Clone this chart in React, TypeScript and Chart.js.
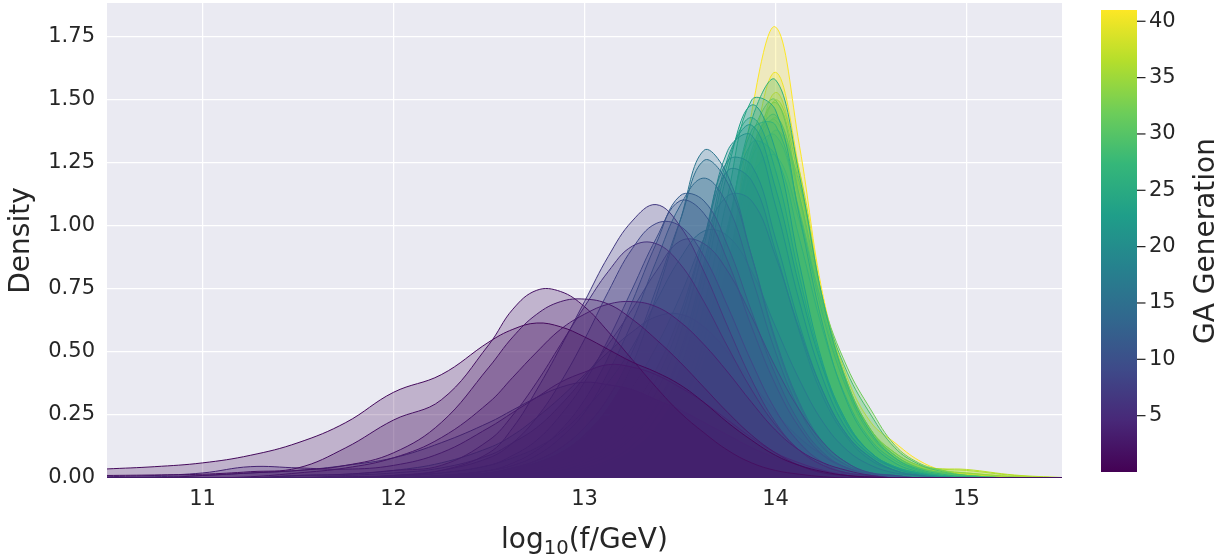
import React, { useEffect, useRef } from "react";
import { Chart, registerables } from "chart.js";

Chart.register(...registerables);

// x grid: log10(f/GeV)
const logF = [10.5, 10.75, 11, 11.25, 11.5, 11.75, 12, 12.25, 12.5, 12.625, 12.75, 12.875, 13, 13.125, 13.25, 13.375, 13.5, 13.625, 13.75, 13.875, 14, 14.125, 14.25, 14.375, 14.5, 14.625, 14.75, 14.875, 15, 15.25, 15.5];

// density of each GA generation, read at the logF grid
const g01 = [0.036, 0.045, 0.06, 0.09, 0.14, 0.22, 0.34, 0.41, 0.54, 0.59, 0.615, 0.60, 0.56, 0.51, 0.46, 0.42, 0.37, 0.30, 0.22, 0.15, 0.09, 0.05, 0.025, 0.01, 0.004, 0, 0, 0, 0, 0, 0];
const g02 = [0.01, 0.012, 0.015, 0.025, 0.04, 0.12, 0.23, 0.31, 0.53, 0.67, 0.745, 0.74, 0.68, 0.58, 0.47, 0.36, 0.26, 0.18, 0.11, 0.06, 0.03, 0.015, 0.005, 0, 0, 0, 0, 0, 0, 0, 0];
const g03 = [0, 0, 0.01, 0.02, 0.03, 0.05, 0.10, 0.22, 0.44, 0.56, 0.65, 0.70, 0.71, 0.69, 0.63, 0.55, 0.46, 0.36, 0.26, 0.17, 0.10, 0.05, 0.02, 0.01, 0, 0, 0, 0, 0, 0, 0];
const g04 = [0, 0, 0, 0.005, 0.02, 0.04, 0.08, 0.16, 0.30, 0.40, 0.50, 0.59, 0.65, 0.69, 0.70, 0.68, 0.62, 0.53, 0.42, 0.30, 0.19, 0.11, 0.06, 0.03, 0.01, 0, 0, 0, 0, 0, 0];
const g05 = [0.005, 0.01, 0.02, 0.045, 0.04, 0.035, 0.05, 0.10, 0.20, 0.26, 0.32, 0.38, 0.42, 0.45, 0.44, 0.41, 0.36, 0.30, 0.23, 0.16, 0.10, 0.06, 0.03, 0.01, 0.005, 0, 0, 0, 0, 0, 0];
const g06 = [0, 0, 0, 0, 0.01, 0.015, 0.03, 0.05, 0.15, 0.25, 0.38, 0.53, 0.68, 0.82, 0.92, 0.93, 0.85, 0.70, 0.52, 0.35, 0.21, 0.11, 0.05, 0.02, 0.01, 0, 0, 0, 0, 0, 0];
const g07 = [0, 0, 0, 0, 0, 0.005, 0.01, 0.03, 0.10, 0.20, 0.35, 0.52, 0.70, 0.88, 1.02, 1.085, 1.00, 0.82, 0.60, 0.39, 0.22, 0.11, 0.05, 0.02, 0.01, 0, 0, 0, 0, 0, 0];
const g08 = [0, 0.005, 0.01, 0.02, 0.03, 0.05, 0.08, 0.14, 0.22, 0.27, 0.32, 0.36, 0.38, 0.37, 0.35, 0.31, 0.27, 0.22, 0.17, 0.12, 0.08, 0.05, 0.03, 0.015, 0.005, 0, 0, 0, 0, 0, 0];
const g09 = [0, 0, 0, 0, 0, 0, 0.01, 0.03, 0.08, 0.14, 0.24, 0.38, 0.55, 0.74, 0.91, 1.01, 1.00, 0.88, 0.68, 0.46, 0.27, 0.14, 0.06, 0.02, 0.01, 0, 0, 0, 0, 0, 0];
const g10 = [0, 0, 0, 0, 0, 0.01, 0.02, 0.04, 0.09, 0.14, 0.20, 0.29, 0.40, 0.53, 0.67, 0.82, 0.94, 0.93, 0.82, 0.64, 0.44, 0.27, 0.14, 0.06, 0.02, 0.01, 0, 0, 0, 0, 0];
const g11 = [0, 0, 0, 0, 0, 0, 0.005, 0.02, 0.05, 0.09, 0.15, 0.25, 0.38, 0.55, 0.75, 0.95, 1.10, 1.05, 0.86, 0.60, 0.37, 0.20, 0.09, 0.04, 0.015, 0, 0, 0, 0, 0, 0];
const g12 = [0, 0, 0, 0, 0, 0, 0, 0.01, 0.03, 0.06, 0.11, 0.19, 0.31, 0.48, 0.70, 0.93, 1.12, 1.10, 0.92, 0.66, 0.41, 0.22, 0.10, 0.04, 0.015, 0.005, 0, 0, 0, 0, 0];
const g13 = [0, 0, 0, 0, 0.01, 0.015, 0.03, 0.06, 0.12, 0.17, 0.24, 0.32, 0.41, 0.50, 0.58, 0.64, 0.65, 0.60, 0.50, 0.38, 0.26, 0.16, 0.09, 0.04, 0.02, 0.01, 0, 0, 0, 0, 0];
const g14 = [0, 0, 0, 0, 0, 0, 0, 0.01, 0.03, 0.05, 0.09, 0.16, 0.26, 0.42, 0.62, 0.86, 1.08, 1.19, 1.08, 0.80, 0.50, 0.27, 0.12, 0.05, 0.02, 0.005, 0, 0, 0, 0, 0];
const g15 = [0, 0, 0, 0, 0, 0, 0, 0.005, 0.02, 0.04, 0.07, 0.12, 0.20, 0.32, 0.50, 0.75, 1.02, 1.26, 1.17, 0.88, 0.55, 0.30, 0.14, 0.06, 0.02, 0.01, 0, 0, 0, 0, 0];
const g16 = [0, 0, 0, 0, 0, 0, 0, 0.005, 0.015, 0.03, 0.06, 0.10, 0.17, 0.28, 0.45, 0.72, 1.02, 1.30, 1.20, 0.88, 0.54, 0.29, 0.13, 0.05, 0.02, 0.005, 0, 0, 0, 0, 0];
const g17 = [0, 0, 0, 0, 0, 0, 0.01, 0.02, 0.05, 0.08, 0.12, 0.18, 0.27, 0.38, 0.52, 0.70, 0.87, 0.98, 0.96, 0.82, 0.60, 0.39, 0.22, 0.11, 0.05, 0.02, 0.01, 0, 0, 0, 0];
const g18 = [0, 0, 0, 0, 0, 0, 0, 0.01, 0.02, 0.04, 0.06, 0.10, 0.16, 0.24, 0.36, 0.52, 0.72, 0.95, 1.12, 1.10, 0.88, 0.59, 0.34, 0.17, 0.08, 0.03, 0.01, 0, 0, 0, 0];
const g19 = [0, 0, 0, 0, 0, 0, 0, 0, 0.01, 0.02, 0.04, 0.07, 0.11, 0.18, 0.28, 0.43, 0.65, 0.95, 1.22, 1.18, 0.90, 0.58, 0.32, 0.16, 0.07, 0.03, 0.01, 0, 0, 0, 0];
const g20 = [0, 0, 0, 0, 0, 0, 0, 0, 0.01, 0.015, 0.03, 0.05, 0.09, 0.15, 0.24, 0.39, 0.62, 0.95, 1.26, 1.24, 0.95, 0.61, 0.34, 0.17, 0.08, 0.03, 0.01, 0, 0, 0, 0];
const g21 = [0, 0, 0, 0, 0, 0, 0, 0, 0.005, 0.01, 0.02, 0.04, 0.07, 0.12, 0.20, 0.34, 0.57, 0.92, 1.30, 1.36, 1.08, 0.70, 0.39, 0.19, 0.09, 0.04, 0.015, 0.005, 0, 0, 0];
const g22 = [0, 0, 0, 0, 0, 0, 0, 0, 0.005, 0.01, 0.02, 0.03, 0.06, 0.10, 0.17, 0.29, 0.50, 0.85, 1.27, 1.40, 1.15, 0.76, 0.43, 0.21, 0.10, 0.04, 0.015, 0.005, 0, 0, 0];
const g23 = [0, 0, 0, 0, 0, 0, 0, 0, 0, 0.005, 0.01, 0.02, 0.04, 0.07, 0.13, 0.24, 0.43, 0.77, 1.22, 1.48, 1.30, 0.85, 0.45, 0.22, 0.10, 0.045, 0.02, 0.005, 0, 0, 0];
const g24 = [0, 0, 0, 0, 0, 0, 0, 0, 0.005, 0.01, 0.02, 0.03, 0.05, 0.09, 0.16, 0.28, 0.48, 0.82, 1.25, 1.43, 1.22, 0.80, 0.44, 0.22, 0.10, 0.045, 0.02, 0.005, 0, 0, 0];
const g25 = [0, 0, 0, 0, 0, 0, 0, 0, 0, 0, 0.01, 0.02, 0.03, 0.06, 0.11, 0.20, 0.37, 0.68, 1.12, 1.50, 1.46, 1.04, 0.60, 0.30, 0.14, 0.06, 0.025, 0.01, 0.005, 0, 0];
const g26 = [0, 0, 0, 0, 0, 0, 0, 0, 0, 0, 0.005, 0.01, 0.02, 0.04, 0.08, 0.15, 0.29, 0.55, 0.98, 1.42, 1.58, 1.20, 0.70, 0.37, 0.18, 0.08, 0.035, 0.015, 0.005, 0, 0];
const g27 = [0, 0, 0, 0, 0, 0, 0, 0, 0, 0, 0, 0.01, 0.02, 0.04, 0.08, 0.16, 0.32, 0.60, 1.00, 1.33, 1.28, 0.95, 0.58, 0.31, 0.15, 0.07, 0.03, 0.01, 0, 0, 0];
const g28 = [0, 0, 0, 0, 0, 0, 0, 0, 0, 0, 0, 0, 0.02, 0.04, 0.07, 0.14, 0.28, 0.54, 0.97, 1.38, 1.40, 1.05, 0.64, 0.35, 0.17, 0.08, 0.03, 0.01, 0, 0, 0];
const g29 = [0, 0, 0, 0, 0, 0, 0, 0, 0, 0, 0, 0, 0.02, 0.04, 0.08, 0.15, 0.28, 0.50, 0.85, 1.20, 1.28, 1.02, 0.68, 0.42, 0.25, 0.12, 0.055, 0.025, 0.01, 0, 0];
const g30 = [0, 0, 0, 0, 0, 0, 0, 0, 0, 0, 0, 0, 0.01, 0.03, 0.06, 0.12, 0.24, 0.46, 0.84, 1.27, 1.36, 1.06, 0.66, 0.36, 0.18, 0.09, 0.04, 0.02, 0.01, 0, 0];
const g31 = [0, 0, 0, 0, 0, 0, 0, 0, 0, 0, 0, 0, 0, 0.02, 0.05, 0.10, 0.20, 0.42, 0.82, 1.30, 1.44, 1.12, 0.69, 0.38, 0.19, 0.09, 0.04, 0.02, 0.01, 0, 0];
const g32 = [0, 0, 0, 0, 0, 0, 0, 0, 0, 0, 0, 0, 0, 0.02, 0.05, 0.10, 0.19, 0.37, 0.70, 1.12, 1.38, 1.17, 0.70, 0.44, 0.27, 0.13, 0.06, 0.03, 0.01, 0, 0];
const g33 = [0, 0, 0, 0, 0, 0, 0, 0, 0, 0, 0, 0, 0, 0.02, 0.04, 0.09, 0.19, 0.40, 0.80, 1.35, 1.50, 1.12, 0.66, 0.35, 0.17, 0.08, 0.04, 0.02, 0.01, 0, 0];
const g34 = [0, 0, 0, 0, 0, 0, 0, 0, 0, 0, 0, 0, 0, 0.02, 0.04, 0.09, 0.18, 0.38, 0.76, 1.28, 1.42, 1.10, 0.67, 0.37, 0.19, 0.10, 0.05, 0.03, 0.02, 0.005, 0];
const g35 = [0, 0, 0, 0, 0, 0, 0, 0, 0, 0, 0, 0, 0, 0, 0.03, 0.07, 0.15, 0.33, 0.70, 1.25, 1.49, 1.18, 0.70, 0.38, 0.19, 0.09, 0.04, 0.02, 0.01, 0, 0];
const g36 = [0, 0, 0, 0, 0, 0, 0, 0, 0, 0, 0, 0, 0, 0, 0.03, 0.07, 0.15, 0.32, 0.66, 1.18, 1.43, 1.15, 0.70, 0.38, 0.19, 0.10, 0.05, 0.035, 0.03, 0.01, 0];
const g37 = [0, 0, 0, 0, 0, 0, 0, 0, 0, 0, 0, 0, 0, 0, 0.03, 0.06, 0.13, 0.29, 0.62, 1.15, 1.50, 1.22, 0.70, 0.36, 0.17, 0.08, 0.04, 0.036, 0.034, 0.012, 0.002];
const g38 = [0, 0, 0, 0, 0, 0, 0, 0, 0, 0, 0, 0, 0, 0, 0.03, 0.06, 0.13, 0.28, 0.60, 1.08, 1.38, 1.15, 0.70, 0.37, 0.18, 0.09, 0.045, 0.025, 0.02, 0.005, 0];
const g39 = [0, 0, 0, 0, 0, 0, 0, 0, 0, 0, 0, 0, 0, 0, 0.02, 0.05, 0.11, 0.26, 0.60, 1.15, 1.53, 1.20, 0.68, 0.34, 0.16, 0.08, 0.04, 0.02, 0.01, 0, 0];
const g40 = [0, 0, 0, 0, 0, 0, 0, 0, 0, 0, 0, 0, 0, 0, 0.02, 0.04, 0.09, 0.24, 0.62, 1.25, 1.61, 1.22, 0.66, 0.32, 0.15, 0.07, 0.03, 0.015, 0.01, 0, 0];
const g41 = [0, 0, 0, 0, 0, 0, 0, 0, 0, 0, 0, 0, 0, 0, 0.015, 0.04, 0.10, 0.30, 0.78, 1.45, 1.79, 1.32, 0.72, 0.40, 0.22, 0.14, 0.07, 0.03, 0.015, 0.005, 0];

const densityRows = [g01, g02, g03, g04, g05, g06, g07, g08, g09, g10, g11, g12, g13, g14, g15, g16, g17, g18, g19, g20, g21, g22, g23, g24, g25, g26, g27, g28, g29, g30, g31, g32, g33, g34, g35, g36, g37, g38, g39, g40, g41];
const generations = [1, 2, 3, 4, 5, 6, 7, 8, 9, 10, 11, 12, 13, 14, 15, 16, 17, 18, 19, 20, 21, 22, 23, 24, 25, 26, 27, 28, 29, 30, 31, 32, 33, 34, 35, 36, 37, 38, 39, 40, 41];

const xTicks = [11, 12, 13, 14, 15];
const yTicks = [0, 0.25, 0.5, 0.75, 1.0, 1.25, 1.5, 1.75];
const colorbarTicks = [5, 10, 15, 20, 25, 30, 35, 40];
const colorbarMin = 0;
const colorbarMax = 41;

const VIRIDIS = [
  [68, 1, 84], [72, 40, 120], [62, 74, 137], [49, 104, 142], [38, 130, 142],
  [31, 158, 137], [53, 183, 121], [109, 205, 89], [180, 222, 44], [253, 231, 37],
];

function viridis(t: number): number[] {
  const tt = Math.max(0, Math.min(1, t)) * (VIRIDIS.length - 1);
  const i = Math.min(VIRIDIS.length - 2, Math.floor(tt));
  const f = tt - i;
  const a = VIRIDIS[i], b = VIRIDIS[i + 1];
  return [0, 1, 2].map((k) => Math.round(a[k] + (b[k] - a[k]) * f));
}

const TEXT = "#262626";
const FONT = "DejaVu Sans";

export default function App() {
  const ref = useRef<HTMLCanvasElement | null>(null);

  useEffect(() => {
    const canvas = ref.current;
    if (!canvas) return;

    const datasets = densityRows.map((row, i) => {
      const [r, g, b] = viridis((generations[i] - colorbarMin) / (colorbarMax - colorbarMin));
      return {
        label: `Generation ${generations[i]}`,
        data: row.map((y, j) => ({ x: logF[j], y })),
        borderColor: `rgb(${r},${g},${b})`,
        backgroundColor: `rgba(${r},${g},${b},0.25)`,
        borderWidth: 1,
        fill: "origin",
        pointRadius: 0,
        tension: 0.4,
      };
    });

    const bgPlugin = {
      id: "bg",
      beforeDraw(chart: any) {
        const { ctx, chartArea } = chart;
        ctx.save();
        ctx.fillStyle = "#ffffff";
        ctx.fillRect(0, 0, chart.width, chart.height);
        ctx.fillStyle = "#EAEAF2";
        ctx.fillRect(chartArea.left, chartArea.top, chartArea.right - chartArea.left, chartArea.bottom - chartArea.top);
        ctx.restore();
      },
    };

    // x-axis label with a real subscript: log10(f/GeV)
    const xLabelPlugin = {
      id: "xlabel",
      afterDraw(chart: any) {
        const { ctx, chartArea } = chart;
        const parts = [
          { t: "log", size: 28, dy: 0 },
          { t: "10", size: 19.6, dy: 6.5 },
          { t: "(f/GeV)", size: 28, dy: 0 },
        ];
        ctx.save();
        ctx.fillStyle = TEXT;
        ctx.textBaseline = "alphabetic";
        ctx.textAlign = "left";
        let total = 0;
        const widths = parts.map((p) => {
          ctx.font = `${p.size}px "${FONT}"`;
          const w = ctx.measureText(p.t).width;
          total += w;
          return w;
        });
        let x = (chartArea.left + chartArea.right) / 2 - total / 2;
        const baseY = 547.5;
        parts.forEach((p, i) => {
          ctx.font = `${p.size}px "${FONT}"`;
          ctx.fillText(p.t, x, baseY + p.dy);
          x += widths[i];
        });
        ctx.restore();
      },
    };

    const colorbarPlugin = {
      id: "colorbar",
      afterDraw(chart: any) {
        const { ctx } = chart;
        const x0 = 1101, x1 = 1137, top = 10, bottom = 472;
        ctx.save();
        const grad = ctx.createLinearGradient(0, bottom, 0, top);
        VIRIDIS.forEach((c, i) => grad.addColorStop(i / (VIRIDIS.length - 1), `rgb(${c[0]},${c[1]},${c[2]})`));
        ctx.fillStyle = grad;
        ctx.fillRect(x0, top, x1 - x0, bottom - top);
        ctx.strokeStyle = TEXT;
        ctx.lineWidth = 1.25;
        ctx.fillStyle = TEXT;
        ctx.font = `21px "${FONT}"`;
        ctx.textAlign = "left";
        ctx.textBaseline = "middle";
        colorbarTicks.forEach((v) => {
          const y = bottom - ((v - colorbarMin) / (colorbarMax - colorbarMin)) * (bottom - top);
          ctx.beginPath();
          ctx.moveTo(x1, y);
          ctx.lineTo(x1 + 8.5, y);
          ctx.stroke();
          ctx.fillText(String(v), x1 + 12, y);
        });
        ctx.translate(1207, (top + bottom) / 2);
        ctx.rotate(-Math.PI / 2);
        ctx.textAlign = "center";
        ctx.font = `28px "${FONT}"`;
        ctx.fillText("GA Generation", 0, 0);
        ctx.restore();
      },
    };

    const chart = new Chart(canvas, {
      type: "line",
      data: { datasets: datasets as any },
      plugins: [bgPlugin, xLabelPlugin, colorbarPlugin],
      options: {
        animation: false,
        responsive: false,
        devicePixelRatio: 1,
        layout: { padding: { left: 0, right: 169, top: 3, bottom: 0 } },
        plugins: { legend: { display: false }, tooltip: { enabled: false } },
        scales: {
          x: {
            type: "linear",
            min: 10.5,
            max: 15.5,
            afterBuildTicks: (scale: any) => {
              scale.ticks = xTicks.map((v) => ({ value: v }));
            },
            afterFit: (scale: any) => {
              scale.height = 80;
              scale.paddingLeft = 0;
              scale.paddingRight = 0;
            },
            grid: { color: "#ffffff", lineWidth: 1.25, drawTicks: false },
            border: { display: false },
            ticks: { color: TEXT, font: { family: FONT, size: 21 }, padding: 9, maxRotation: 0 },
            title: { display: false },
          },
          y: {
            type: "linear",
            min: 0,
            max: 1.885,
            afterBuildTicks: (scale: any) => {
              scale.ticks = yTicks.map((v) => ({ value: v }));
            },
            afterFit: (scale: any) => {
              scale.width = 107;
              scale.paddingTop = 0;
              scale.paddingBottom = 0;
            },
            grid: { color: "#ffffff", lineWidth: 1.25, drawTicks: false },
            border: { display: false },
            ticks: {
              color: TEXT,
              font: { family: FONT, size: 21 },
              padding: 12,
              callback: (v: any) => Number(v).toFixed(2),
            },
            title: {
              display: true,
              text: "Density",
              color: TEXT,
              font: { family: FONT, size: 28 },
              padding: { top: 5, bottom: 0 },
            },
          },
        },
      },
    } as any);

    return () => chart.destroy();
  }, []);

  return (
    <div style={{ position: "absolute", left: 0, top: 0, width: 1231, height: 558, background: "#ffffff" }}>
      <canvas ref={ref} width={1231} height={558} style={{ width: 1231, height: 558, display: "block" }} />
    </div>
  );
}
